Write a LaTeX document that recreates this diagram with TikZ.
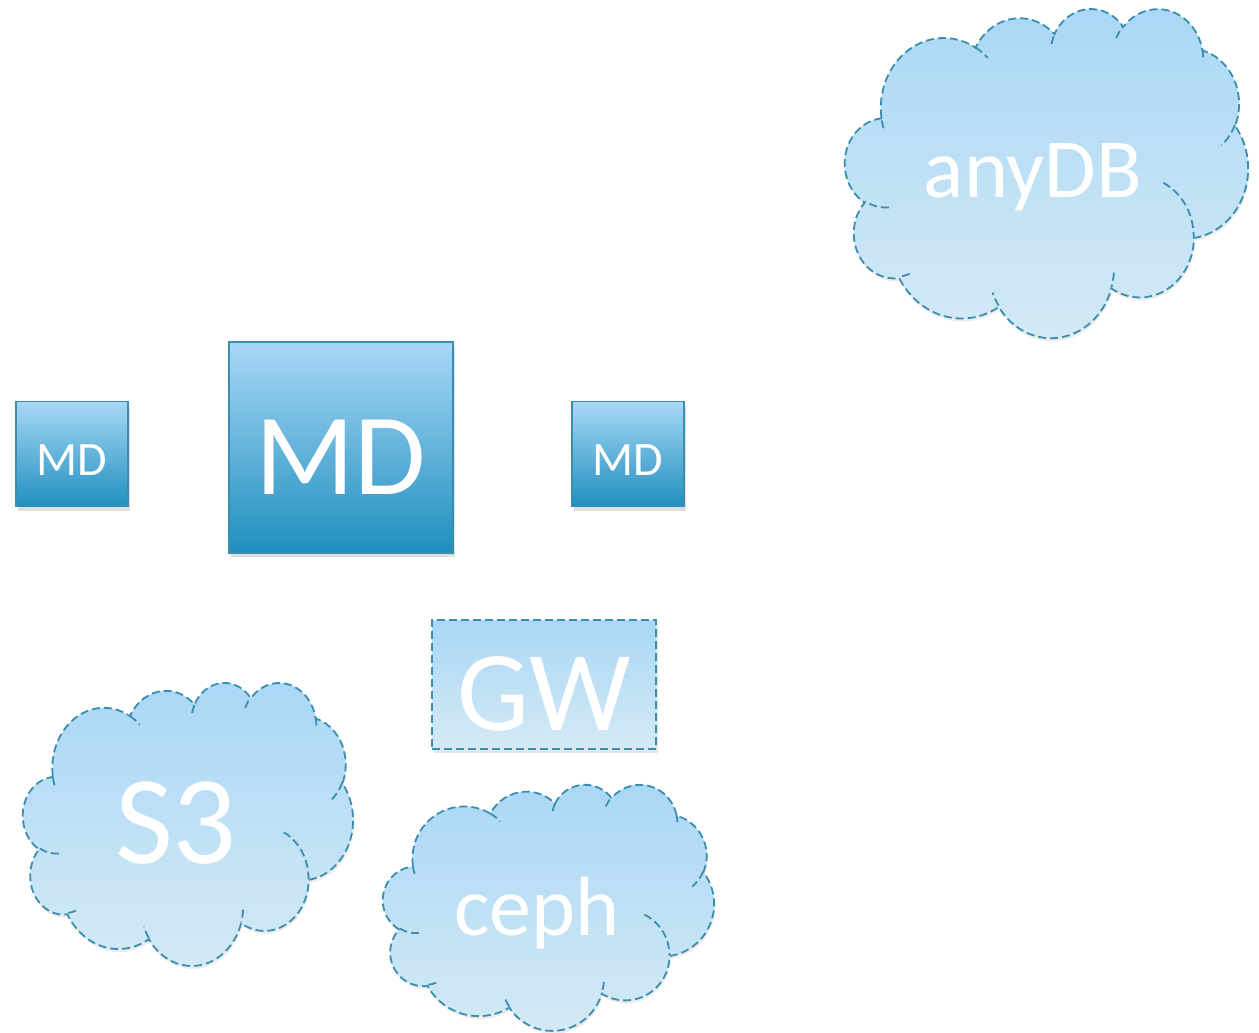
\documentclass[tikz,border=0pt]{standalone}
\usepackage{fontspec}
\setmainfont{Carlito}
\usetikzlibrary{shadows}

\definecolor{mdtop}{HTML}{A9D8F7}
\definecolor{mdbot}{HTML}{1F8FBE}
\definecolor{cltop}{HTML}{A9D7F6}
\definecolor{clbot}{HTML}{D5EAF5}
\definecolor{edgeblue}{HTML}{3A8EAF}

% elliptical arc given with start/sweep angles on the visual circle
\newcommand{\pptarc}[4]{arc[x radius=#1, y radius=#2,
  start angle={atan2((#1)*sin(#3),(#2)*cos(#3))},
  delta angle={mod(atan2((#1)*sin((#3)+(#4)),(#2)*cos((#3)+(#4)))-atan2((#1)*sin(#3),(#2)*cos(#3))+720,360)}]}

\newcommand{\cloudoutline}{(3.900,14.370)
  \pptarc{6.753}{9.190}{-190.4875}{123.7805}
  \pptarc{5.333}{7.267}{-144.1024}{89.9452}
  \pptarc{4.365}{5.945}{-145.8079}{99.7230}
  \pptarc{4.857}{6.595}{-130.9861}{117.2417}
  \pptarc{5.333}{7.273}{-78.7089}{109.0269}
  \pptarc{6.775}{9.220}{-46.2673}{130.2690}
  \pptarc{5.785}{7.867}{0.6250}{114.0333}
  \pptarc{6.752}{9.215}{22.4516}{115.1726}
  \pptarc{7.720}{10.543}{66.2426}{75.7110}
  \pptarc{4.360}{5.918}{-274.9421}{146.7356}
  \pptarc{4.345}{5.945}{-246.8285}{152.5189} -- cycle}

\newcommand{\cloudinner}{
  (4.693,26.177) \pptarc{4.345}{5.945}{86.7420}{26.4295}
  (6.928,34.899) \pptarc{4.360}{5.918}{73.6105}{11.4475}
  (16.478,39.090) \pptarc{6.752}{9.215}{137.6242}{14.0811}
  (28.827,34.751) \pptarc{6.752}{9.215}{6.4533}{15.9984}
  (34.129,22.954) \pptarc{5.785}{7.867}{-70.2924}{70.9174}
  (41.798,15.354) \pptarc{5.333}{7.273}{30.3180}{27.7515}
  (38.324,5.426) \pptarc{4.857}{6.595}{-13.7443}{14.8589}
  (29.078,3.952) \pptarc{4.857}{6.595}{-149.1815}{18.1954}
  (22.141,4.720) \pptarc{4.365}{5.945}{-163.4943}{17.6864}
  (14.000,5.192) \pptarc{6.753}{9.190}{-66.7070}{12.3194}
  (4.127,15.789) \pptarc{6.753}{9.190}{157.6544}{11.8582}}

% cloud with top-left corner #1,#2 and units #3,#4
\newcommand{\pptcloud}[4]{%
  \begin{scope}[shift={(#1,#2)}, x=#3, y=-#4]
    \path[cloudbody] \cloudoutline;
    \draw[cloudedge] \cloudinner;
  \end{scope}}

\tikzset{
  mdbox/.style={draw=edgeblue, line width=0.8pt, top color=mdtop, bottom color=mdbot,
    text=white, inner sep=0pt, text depth=0pt,
    drop shadow={opacity=0.25, shadow xshift=1pt, shadow yshift=-2pt}},
  gwbox/.style={draw=edgeblue, line width=0.8pt, dash pattern=on 4pt off 2pt,
    top color=cltop, bottom color=clbot, text=white, inner sep=0pt, text depth=0pt,
    drop shadow={opacity=0.2, shadow xshift=1pt, shadow yshift=-2pt}},
  cloudedge/.style={draw=edgeblue, line width=0.9pt, dash pattern=on 4pt off 2pt},
  cloudbody/.style={cloudedge, top color=cltop, bottom color=clbot,
    drop shadow={opacity=0.15, shadow xshift=0.5pt, shadow yshift=-1.5pt}},
  cloudtext/.style={text=white, inner sep=0pt, anchor=base}
}

\begin{document}
\begin{tikzpicture}[x=0.5pt,y=-0.5pt]
\useasboundingbox (0,0) rectangle (1259,1033);

% metadata servers
\node[mdbox, minimum width=56pt, minimum height=52.5pt, text height=21pt] (mdleft) at (72,454)
  {\fontsize{24}{28}\selectfont MD};
\node[mdbox, minimum width=112pt, minimum height=105.5pt, text height=46.5pt] (mdmain) at (341,447.5)
  {\fontsize{58}{66}\selectfont MD};
\node[mdbox, minimum width=56pt, minimum height=52.5pt, text height=21pt] (mdright) at (628,454)
  {\fontsize{24}{28}\selectfont MD};

% gateway
\node[gwbox, minimum width=112pt, minimum height=64.5pt, text height=45.5pt] (gw) at (544,684.5)
  {\fontsize{57}{64}\selectfont GW};

% backends
\pptcloud{845}{8}{4.664pt}{3.808pt}
\node[cloudtext] (anydb) at (1033,197) {\fontsize{42}{48}\selectfont anyDB};
\pptcloud{23}{682}{3.819pt}{3.275pt}
\node[cloudtext] (sthree) at (176,863) {\fontsize{63}{70}\selectfont S3};
\pptcloud{383}{784}{3.831pt}{2.847pt}
\node[cloudtext] (ceph) at (537,935) {\fontsize{42}{48}\selectfont ceph};
\end{tikzpicture}
\end{document}
